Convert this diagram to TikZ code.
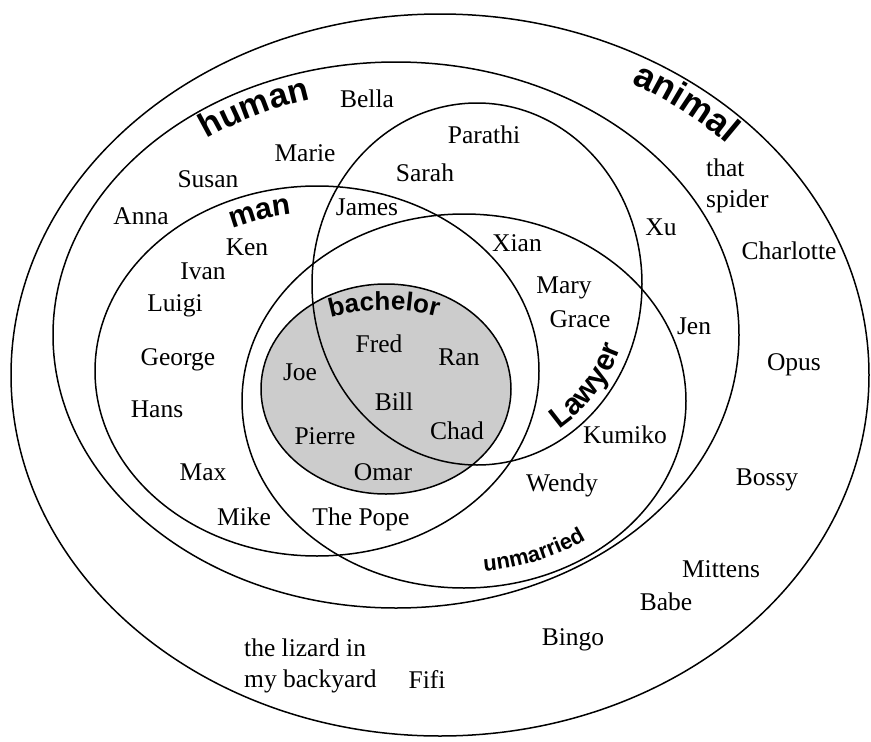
\documentclass[tikz,border=0pt]{standalone}
\usepackage{fontspec}
\setmainfont{Liberation Serif}
\newfontfamily\lblsans{Liberation Sans}
\usepackage{tikz}
\usetikzlibrary{decorations.text}

\definecolor{bachgrey}{gray}{0.8}
\newcommand\membfont{\fontsize{25.5}{31}\selectfont}
\newcommand\humanfont{\lblsans\bfseries\fontsize{34}{34}\selectfont}
\newcommand\animalfont{\lblsans\bfseries\fontsize{36}{36}\selectfont}
\newcommand\manfont{\lblsans\bfseries\fontsize{30}{30}\selectfont}
\newcommand\bachfont{\lblsans\bfseries\fontsize{26}{26}\selectfont}
\newcommand\lawfont{\lblsans\bfseries\fontsize{30}{30}\selectfont}
\newcommand\unmfont{\lblsans\bfseries\fontsize{22}{22}\selectfont}

\begin{document}
\begin{tikzpicture}[
      x=1pt, y=-1pt,
      set/.style={line width=1.5pt},
      member/.style={
            font=\membfont, inner sep=0pt,
            text height=17pt, text depth=0pt
        },
      twoline/.style={
            font=\membfont, inner sep=0pt,
            align=left, anchor=west
        },
      setlabel/.style={
            decorate,
            decoration={text along path, text align=center, text={#1}}
        }
      ]
    \useasboundingbox (0,0) rectangle (871,742);

    % bachelor
    \fill[bachgrey] (386,389) ellipse[x radius=125, y radius=105];

    % the sets
    \draw[set] (440,375) ellipse[x radius=429, y radius=361]; % animal
    \draw[set] (396,335) ellipse[x radius=343, y radius=273]; % human
    \draw[set] (317,371) ellipse[x radius=222, y radius=185]; % man
    \draw[set] (477,284) ellipse[x radius=165, y radius=181]; % lawyer
    \draw[set] (464,401) ellipse[x radius=222, y radius=187]; % unmarried
    \draw[set] (386,389) ellipse[x radius=125, y radius=105]; % bachelor

    % set names
    \path[setlabel={|\humanfont|human}] (396,335) ++(219:315 and 245)
      arc[start angle=219, end angle=267, x radius=315, y radius=245];
    \path[setlabel={|\animalfont|animal}] (440,375) ++(283:400 and 332)
      arc[start angle=283, end angle=333, x radius=400, y radius=332];
    \path[setlabel={|\manfont|man}] (317,371) ++(228:195 and 158)
      arc[start angle=228, end angle=278, x radius=195, y radius=158];
    \path[setlabel={|\bachfont|bachelor}] (386,389) ++(229:130 and 79)
      arc[start angle=229, end angle=309, x radius=130, y radius=79];
    \path[setlabel={|\lawfont|Lawyer}] (477,284) ++(72:155 and 171)
      arc[start angle=72, end angle=9, x radius=155, y radius=171];
    \path[setlabel={|\unmfont|unmarried}] (464,401) ++(101:208 and 171)
      arc[start angle=101, end angle=36, x radius=208, y radius=171];

    % members
    \foreach \who/\px/\py in {
        Bella/367/99, Parathi/484/135, Marie/305/153, Sarah/425/173,
        Susan/208/179, Anna/141/216, James/367/207, Xu/661/227,
        Charlotte/789/251, Ken/247/247, Xian/517/243, Ivan/203/271,
        Mary/564/285, Luigi/175/303, Grace/580/319, Jen/694/326,
        George/178/357, Fred/379/344, Ran/459/357, Opus/794/362,
        Joe/300/372, Bill/394/402, Hans/157/409, Chad/457/431,
        Pierre/325/436, Kumiko/625/435, Max/203/472, Omar/383/472,
        Wendy/562/483, Bossy/767/477, Mike/244/517, The Pope/361/517,
        Mittens/721/569, Babe/666/602, Bingo/573/637, Fifi/427/680}
      \node[member] (\who) at (\px,\py) {\who};
    \node[twoline] (spider) at (706,186) {that\\spider};
    \node[twoline] (lizard) at (244,666) {the lizard in\\my backyard};
  \end{tikzpicture}
\end{document}
